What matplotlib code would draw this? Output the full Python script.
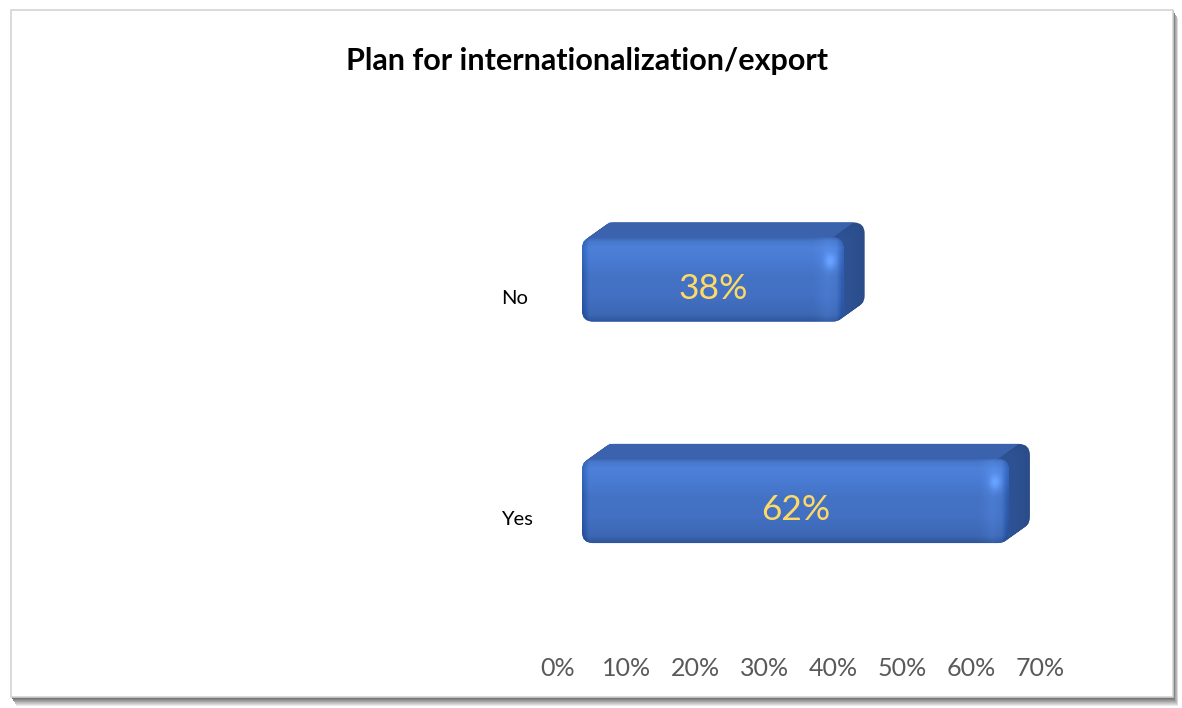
import matplotlib
matplotlib.use("Agg")
import matplotlib.pyplot as plt
import numpy as np
from matplotlib.patches import FancyBboxPatch, Polygon, Rectangle
from matplotlib.transforms import ScaledTranslation, IdentityTransform
from matplotlib.colors import to_rgb

# ---- data -------------------------------------------------------------
categories = ["Yes", "No"]
shares = [0.62, 0.38]
tick_values = [0.0, 0.1, 0.2, 0.3, 0.4, 0.5, 0.6, 0.7]
tick_labels = ["0%", "10%", "20%", "30%", "40%", "50%", "60%", "70%"]
title_text = "Plan for internationalization/export"

# ---- figure -----------------------------------------------------------
W, H, DPI = 1182, 708, 100
plt.rcParams["font.family"] = ["Lato", "DejaVu Sans"]
fig = plt.figure(figsize=(W / DPI, H / DPI), dpi=DPI, facecolor="white")


def fig_rect(left, top, right, bottom):
    """Figure-fraction box from pixel edges measured from the top-left."""
    return [left / W, 1 - bottom / H, (right - left) / W, (bottom - top) / H]


# card frame with a soft drop shadow on the right and bottom
card_l, card_t, card_r, card_b = 11, 10, 1173, 697
for i in range(9, 0, -1):
    shade = 0.33 + 0.065 * i
    fig.add_artist(Rectangle((card_l / W + i / W * 0.6, (H - card_b - i) / H),
                             (card_r - card_l) / W, (card_b - card_t) / H,
                             transform=fig.transFigure, facecolor=str(min(shade, 0.93)),
                             edgecolor="none", zorder=0))
fig.add_artist(Rectangle((card_l / W, (H - card_b) / H),
                         (card_r - card_l) / W, (card_b - card_t) / H,
                         transform=fig.transFigure, facecolor="white",
                         edgecolor="#d4d4d4", linewidth=1.2, zorder=1))

fig.text(587 / W, 1 - 61 / H, title_text, ha="center", va="center",
         fontsize=22, fontweight="bold", color="black", zorder=5)

# ---- axes -------------------------------------------------------------
ax = fig.add_axes(fig_rect(582, 150, 1064, 640), zorder=3)
ax.patch.set_alpha(0)
for s in ax.spines.values():
    s.set_visible(False)
ax.set_xlim(0, 0.7)
ylim = (-0.6275, 1.5847)
ax.set_ylim(*ylim)

ypos = np.arange(len(categories))
bar_h = 0.38
bars = ax.barh(ypos, shares, height=bar_h, color="#4472C4")

ax.set_xticks(tick_values, tick_labels)
ax.tick_params(axis="x", length=0, pad=12, labelsize=18, labelcolor="#595959")
ax.set_yticks(ypos, categories)
ax.tick_params(axis="y", length=0, pad=0, labelsize=14.5, labelcolor="black")

shift_x = ScaledTranslation(-24 / DPI, 0, fig.dpi_scale_trans)
for lbl in ax.get_xticklabels():
    lbl.set_transform(lbl.get_transform() + shift_x)
shift_y = ScaledTranslation(-81 / DPI, -17 / DPI, fig.dpi_scale_trans)
for lbl in ax.get_yticklabels():
    lbl.set_horizontalalignment("left")
    lbl.set_transform(lbl.get_transform() + shift_y)

# ---- extruded, rounded bars --------------------------------------------
depth_x, depth_y = 21, 15        # extrusion in pixels (right, up)
radius = 11
side_col = np.array(to_rgb("#2E5395"))
top_col = np.array(to_rgb("#3B62AC"))
ident = IdentityTransform()


def front_image(nx, ny):
    t = np.linspace(1, 0, ny)[:, None]          # 1 at top, 0 at bottom
    stops = [0.0, 0.08, 0.3, 0.55, 0.72, 0.88, 0.96, 1.0]
    cols = [to_rgb(c) for c in ["#30559a", "#3c67b4", "#4370c2", "#4473c5",
                                "#4a7bd3", "#4d80d9", "#4677c9", "#3a63ae"]]
    img = np.zeros((ny, nx, 3))
    for k in range(3):
        img[:, :, k] = np.interp(t[:, 0], stops, [c[k] for c in cols])[:, None]
    u = np.linspace(0, 1, nx)[None, :] * nx     # pixel index from the left
    from_right = nx - u
    # soft bevel near the right end
    bevel = np.clip(1 - np.abs(from_right - 16) / 14, 0, 1) * 0.045
    img = img + bevel[..., None] * np.array([0.6, 0.8, 1.0])
    # darker rim at both ends
    rim = np.clip(1 - np.minimum(u, from_right) / 7, 0, 1) * 0.10
    img = img - rim[..., None]
    # soft specular spot near the upper right corner
    yy = np.arange(ny)[:, None]
    spot = np.exp(-(((from_right - 13) / 6) ** 2 + ((yy - 0.28 * ny) / 8) ** 2))
    img = img + spot[..., None] * np.array([0.10, 0.13, 0.16])
    return np.clip(img, 0, 1)


fig.canvas.draw()
for rect, val in zip(bars, shares):
    rect.set_visible(False)
    x0d, y0d = rect.get_x(), rect.get_y()
    x1d, y1d = x0d + rect.get_width(), y0d + rect.get_height()
    (px0, py0), (px1, py1) = ax.transData.transform([(x0d, y0d), (x1d, y1d)])
    w, h = px1 - px0, py1 - py0

    # extrusion: stacked rounded outlines from back to front
    n = 24
    for k in range(n, 0, -1):
        f = k / n
        fb = FancyBboxPatch((px0 + f * depth_x, py0 + f * depth_y), w, h,
                            boxstyle=f"round,pad=0,rounding_size={radius}",
                            transform=ident, facecolor=side_col * (0.92 + 0.08 * (1 - f)),
                            edgecolor="none", zorder=3)
        ax.add_artist(fb)
    # upper face
    top_face = Polygon([(px0 + radius * 0.6, py1), (px1 - radius, py1),
                        (px1 - radius + depth_x, py1 + depth_y),
                        (px0 + radius * 0.6 + depth_x, py1 + depth_y)],
                       closed=True, transform=ident, facecolor=top_col,
                       edgecolor="none", zorder=3.2)
    ax.add_artist(top_face)
    # front face with shading
    front = FancyBboxPatch((px0, py0), w, h,
                           boxstyle=f"round,pad=0,rounding_size={radius}",
                           transform=ident, facecolor="#4472C4",
                           edgecolor="none", zorder=3.4)
    ax.add_artist(front)
    img = front_image(int(round(w)), int(round(h)))
    im = ax.imshow(img, extent=(x0d, x1d, y0d, y1d), aspect="auto",
                   zorder=3.5, interpolation="bilinear")
    im.set_clip_path(front)

    # value label
    ax.text((x0d + x1d) / 2, (y0d + y1d) / 2, f"{val:.0%}",
            ha="center", va="center", fontsize=25.5, color="#FFD966", zorder=6,
            transform=ax.transData + ScaledTranslation(0, -9 / DPI, fig.dpi_scale_trans))

ax.set_xlim(0, 0.7)
ax.set_ylim(*ylim)

fig.savefig("out.png", dpi=DPI, facecolor="white")
